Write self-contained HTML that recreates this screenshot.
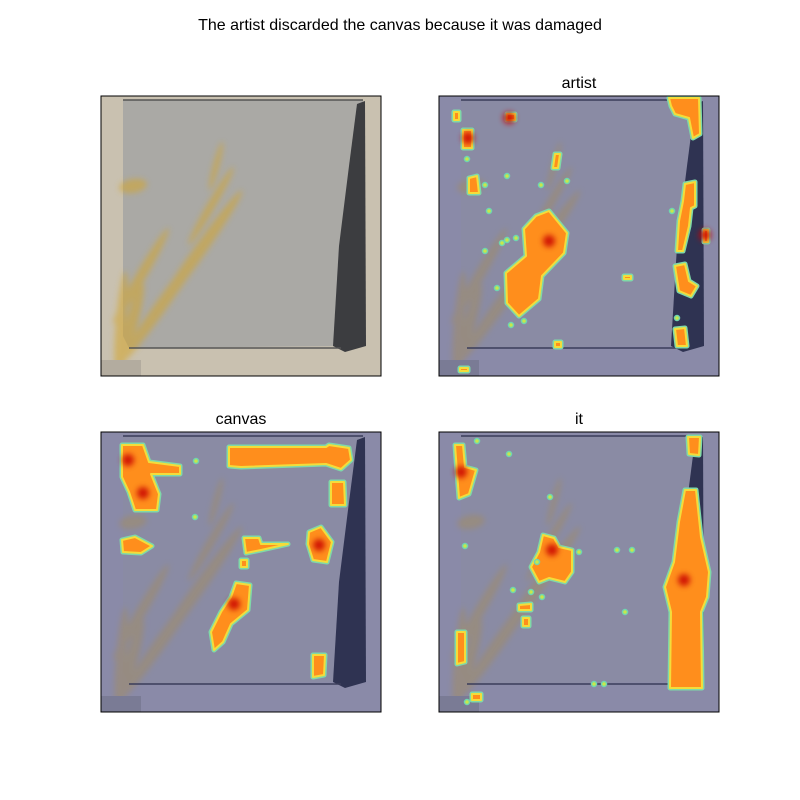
<!DOCTYPE html>
<html><head><meta charset="utf-8"><style>
body{margin:0;background:#fff;}
svg{display:block;font-family:"Liberation Sans",sans-serif;}
</style></head><body>
<svg id="fig" width="800" height="800" viewBox="0 0 800 800">
<defs>
<filter id="blur" x="-50%" y="-50%" width="200%" height="200%"><feGaussianBlur stdDeviation="3"/></filter>
<filter id="blur2" x="-50%" y="-50%" width="200%" height="200%"><feGaussianBlur stdDeviation="3"/></filter>
</defs>
<text x="400" y="30" text-anchor="middle" font-size="16" fill="#000">The artist discarded the canvas because it was damaged</text>
</svg>
<script>
const panelNames = ['original','artist','canvas','it'];
const panelX = [101,439,101,439];
const panelY = [96,96,432,432];
const panelTitles = ['', 'artist', 'canvas', 'it'];
const blobsArtist = [
 [[110,115],[128,137],[125,157],[103,180],[100,203],[80,220],[68,207],[67,177],[87,160],[85,133],[97,120]],
 [[230,2],[260,2],[261,38],[254,42],[250,22],[236,18],[232,10]],
 [[246,88],[256,86],[256,110],[252,112],[250,130],[244,155],[238,155],[240,125],[244,105]],
 [[236,170],[246,168],[250,185],[258,190],[252,200],[240,195]],
 [[236,233],[246,232],[248,250],[238,250]],
 [[24,34],[33,34],[33,52],[24,52]],[[30,82],[38,80],[40,97],[30,97]],
 [[15,16],[20,16],[20,24],[15,24]],[[68,18],[76,18],[76,24],[68,24]],
 [[116,58],[121,58],[119,72],[114,72]],[[265,134],[269,134],[269,146],[265,146]],
 [[185,180],[192,180],[192,183],[185,183]],[[116,246],[122,246],[122,251],[116,251]],
 [[21,272],[29,272],[29,275],[21,275]]
];
const dotsArtist = [[50,115],[46,155],[68,80],[102,89],[128,85],[72,229],[85,225],[58,192],[233,115],[28,63],[46,89],[63,147],[68,144],[77,142],[238,222]];
const redArtist = [[110,145],[70,22],[29,42],[266,139]];
const blobsCanvas = [
 [[21,13],[42,13],[48,30],[79,34],[79,42],[50,42],[58,62],[56,78],[34,78],[28,60],[21,45]],
 [[128,15],[225,15],[228,13],[248,16],[250,28],[240,37],[225,32],[140,35],[128,34]],
 [[230,50],[243,50],[244,73],[230,73]],
 [[21,108],[34,105],[51,114],[40,121],[22,120]],
 [[143,106],[158,106],[160,112],[187,112],[160,118],[145,121]],
 [[208,100],[220,95],[231,110],[226,130],[212,128],[207,112]],
 [[135,151],[149,153],[147,178],[130,192],[122,210],[113,218],[110,200],[120,180],[130,165]],
 [[212,223],[224,223],[223,243],[212,245]],
 [[140,128],[146,128],[146,135],[140,135]]
];
const dotsCanvas = [[94,85],[95,29]];
const redCanvas = [[27,28],[42,61],[133,172],[218,113]];
const blobsIt = [
 [[246,58],[257,58],[262,105],[270,140],[268,165],[262,180],[263,256],[231,256],[232,180],[226,155],[235,130],[240,90]],
 [[104,103],[115,106],[120,115],[133,118],[133,140],[126,150],[110,146],[100,150],[92,135],[100,120]],
 [[16,13],[24,13],[26,35],[37,38],[30,62],[20,66],[18,40]],
 [[249,5],[261,5],[260,23],[250,22]],
 [[80,173],[92,172],[92,178],[80,178]],[[84,186],[90,186],[90,194],[84,194]],
 [[18,200],[26,200],[26,230],[18,232]],[[33,262],[42,262],[42,268],[33,268]]
];
const dotsIt = [[38,9],[70,22],[111,65],[178,118],[193,118],[186,180],[103,165],[92,160],[98,130],[140,120],[26,114],[155,252],[165,252],[28,270],[74,158]];
const redIt = [[245,148],[113,118],[22,40]];
const panelBlobs = [[], blobsArtist, blobsCanvas, blobsIt];
const panelDots = [[], dotsArtist, dotsCanvas, dotsIt];
const panelReds = [[], redArtist, redCanvas, redIt];

const NS = 'http://www.w3.org/2000/svg';
const svg = document.getElementById('fig');
function mk(tag, attrs, parent){const e=document.createElementNS(NS,tag);for(const k in attrs)e.setAttribute(k,attrs[k]);parent.appendChild(e);return e;}
function pts(a){return a.map(p=>p.join(',')).join(' ');}
const streaks = [[60,210,-55,70,6],[95,160,-55,80,6],[40,180,-60,55,5],[110,110,-60,45,4],[75,190,-55,55,5],[30,230,-75,45,6],[115,70,-75,25,3],[32,90,-10,14,7],[20,225,-85,50,5]];

panelNames.forEach((nm,i)=>{
 const tint = i>0;
 const g = mk('g',{transform:`translate(${panelX[i]},${panelY[i]})`},svg);
 
 
 const wall = tint?'#8a8aa8':'#c9c1b0';
 const canv = tint?'#8a8ba4':'#aaa9a5';
 const fab = tint?'#2f3352':'#3c3d40';
 const paint = tint?'#a08c66':'#d4a52a';
 mk('rect',{x:0,y:0,width:280,height:280,fill:wall},g);
 mk('polygon',{points:'22,4 262,4 256,250 28,252 22,240',fill:canv},g);
 const sg=mk('g',{filter:'url(#blur2)',opacity:0.55},g);
 streaks.forEach(s=>{mk('ellipse',{cx:s[0],cy:s[1],rx:s[3],ry:s[4],fill:paint,transform:`rotate(${s[2]} ${s[0]} ${s[1]})`},sg);});
 mk('polygon',{points:'256,8 264,5 265,250 244,256 232,250 238,150 248,70',fill:fab},g);
 mk('line',{x1:22,y1:4,x2:262,y2:4,stroke:tint?'#3a3d5a':'#555',"stroke-width":1.5},g);
 mk('line',{x1:28,y1:252,x2:240,y2:252,stroke:tint?'#3a3d5a':'#555',"stroke-width":1.5},g);
 mk('rect',{x:0,y:264,width:40,height:16,fill:tint?'#7a7b95':'#b3ac9f'},g);
 panelBlobs[i].forEach((b,j)=>{
  const o=mk('polygon',{points:pts(b),fill:'#7fd9a8',stroke:'#7fd9a8','stroke-width':5,'stroke-linejoin':'round'},g);
  
  
  const p=mk('polygon',{points:pts(b),fill:'#ff8e1c',stroke:'#f4dc3a','stroke-width':2,'stroke-linejoin':'round'},g);
  
  
 });
 panelDots[i].forEach(d=>{
  const c=mk('circle',{cx:d[0],cy:d[1],r:2.5,fill:'#c8e84a',stroke:'#6fd6b0','stroke-width':1.5},g);
  
  
 });
 panelReds[i].forEach(d=>{
  const c=mk('circle',{cx:d[0],cy:d[1],r:6,fill:'#c80000',opacity:0.85,filter:'url(#blur)'},g);
  
  
 });
 const fr=mk('rect',{x:0,y:0,width:280,height:280,fill:'none',stroke:'#000','stroke-width':1},g);
 
 
 if(panelTitles[i]){
  const t=mk('text',{x:panelX[i]+140,y:panelY[i]-8,'text-anchor':'middle','font-size':16,fill:'#000'},svg);
  t.textContent=panelTitles[i];
  
  
 }
});
</script>
</body></html>
